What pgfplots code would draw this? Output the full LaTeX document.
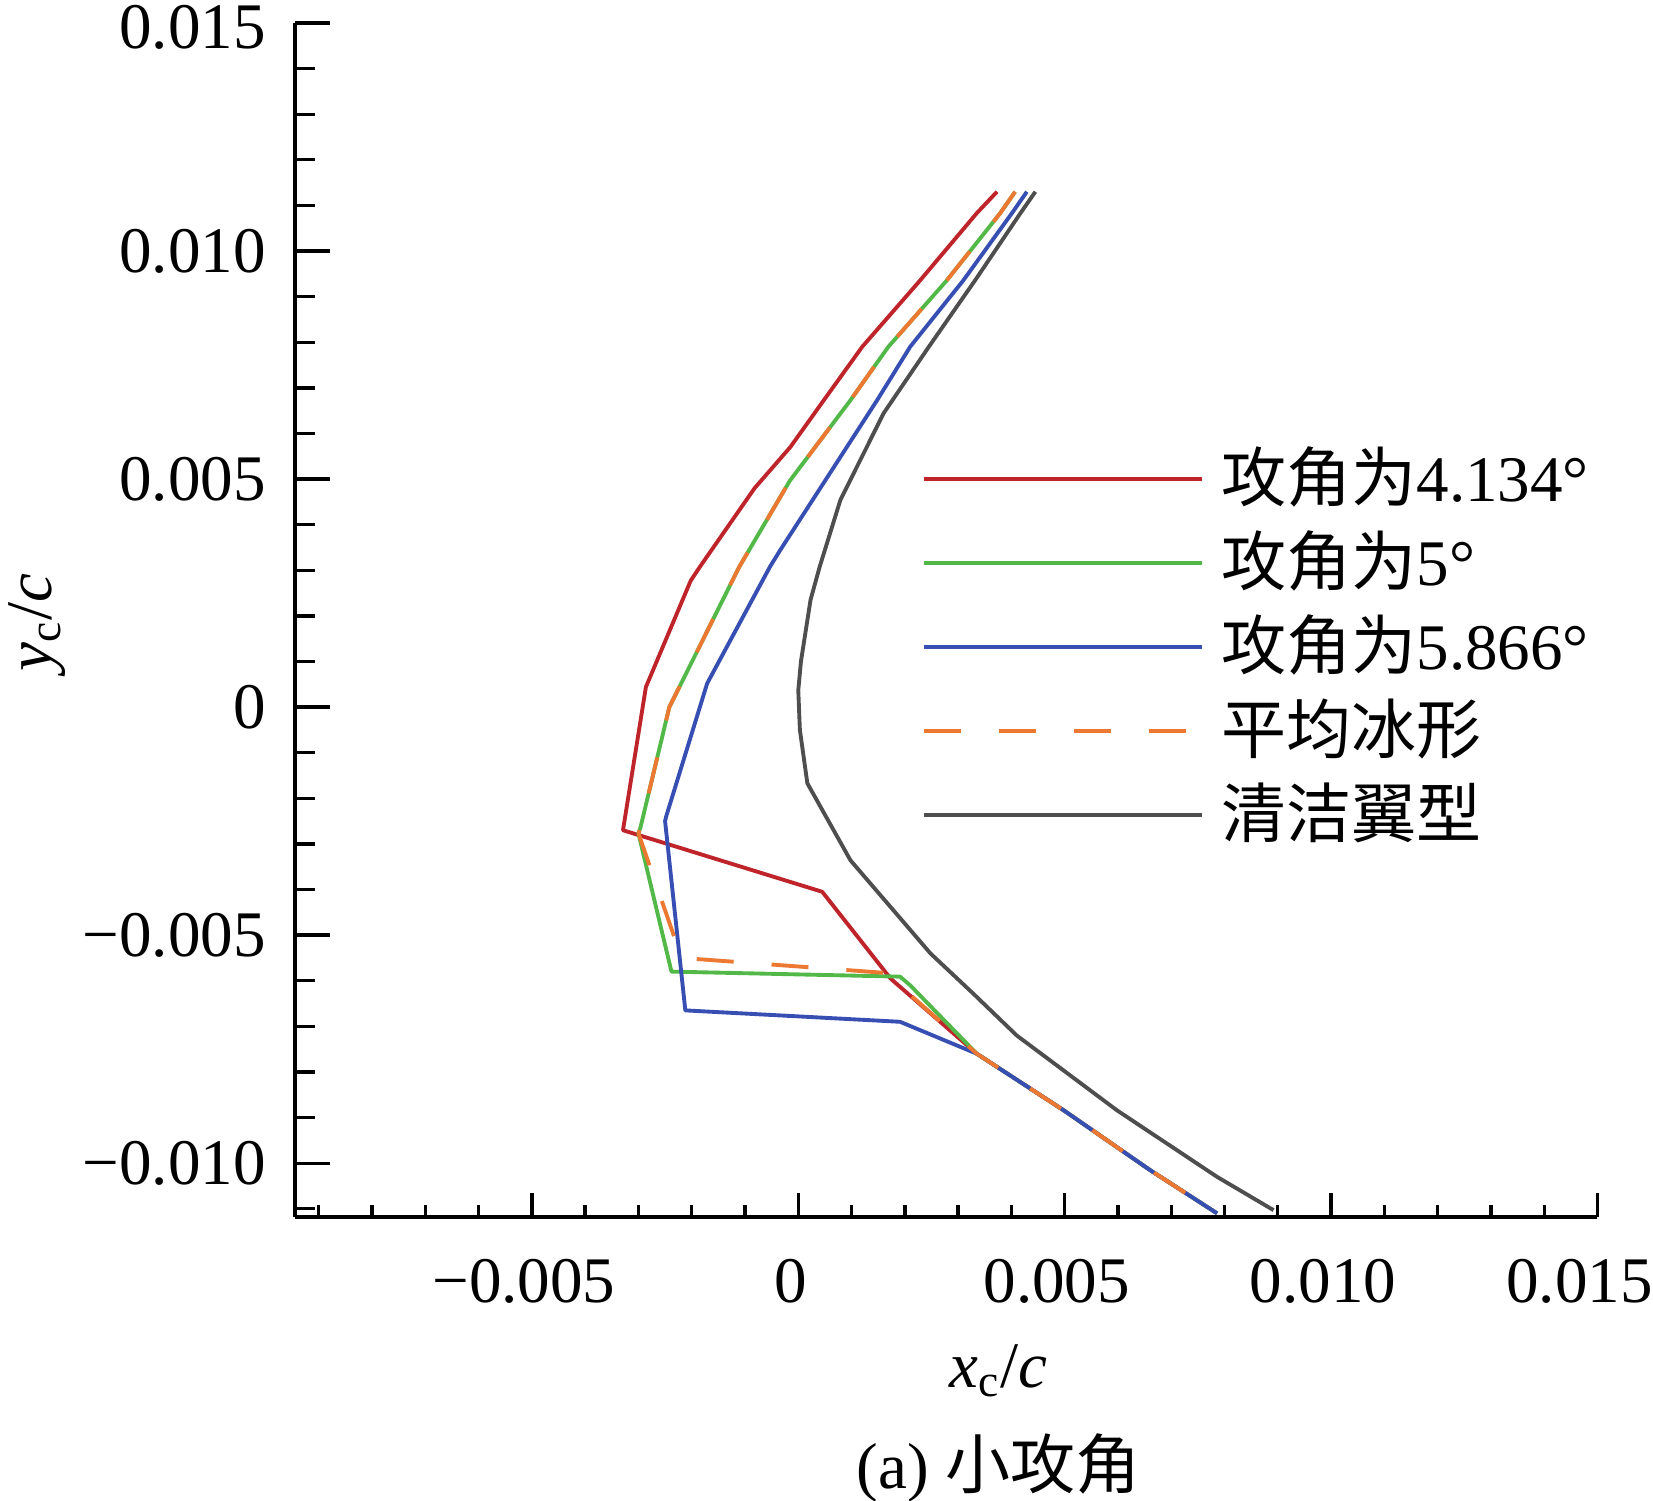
\documentclass[border=0pt]{standalone}
\usepackage{fontspec}
\setmainfont{Liberation Serif}
\newfontfamily\cjk{Noto Sans CJK SC}
\usepackage{pgfplots}
\pgfplotsset{compat=1.18}
\definecolor{cred}{RGB}{190,36,42}
\definecolor{cgreen}{RGB}{82,185,72}
\definecolor{cblue}{RGB}{55,78,178}
\definecolor{corange}{RGB}{236,120,50}
\definecolor{cgray}{RGB}{78,78,78}
\begin{document}
\fontsize{18.5pt}{22pt}\selectfont
\begin{tikzpicture}
\useasboundingbox (-2.95cm,-2.84cm) rectangle (13.58cm,12.17cm);
\begin{axis}[
  name=ax, scale only axis, width=13.025cm, height=11.94cm,
  at={(0,0)}, anchor=south west,
  xmin=-0.009446, xmax=0.015, ymin=-0.01118, ymax=0.015,
  axis x line*=bottom, axis y line*=left,
  axis line style={line width=1.1pt, black},
  clip=false,
  xtick={-0.005,0,0.005,0.01,0.015},
  xticklabels={−0.005,0,0.005,0.010,\hspace*{-0.2cm}0.015},
  ytick={-0.01,-0.005,0,0.005,0.01},
  yticklabels={−0.010,−0.005,0,0.005,0.010},
  extra y ticks={0.015},
  extra y tick labels={0.015},
  extra y tick style={yticklabel style={yshift=-0.04cm}},
  minor xtick={-0.009,-0.008,-0.007,-0.006,-0.004,-0.003,-0.002,-0.001,0.001,0.002,0.003,0.004,0.006,0.007,0.008,0.009,0.011,0.012,0.013,0.014},
  minor ytick={-0.011,-0.009,-0.008,-0.007,-0.006,-0.004,-0.003,-0.002,-0.001,0.001,0.002,0.003,0.004,0.006,0.007,0.008,0.009,0.011,0.012,0.013,0.014},
  scaled ticks=false,
  tick align=inside,
  major tick length=0.35cm, minor tick length=0.2cm,
  every tick/.style={black, line width=0.95pt},
  every major x tick/.append style={/pgfplots/major tick length=0.24cm},
  every minor x tick/.append style={/pgfplots/minor tick length=0.12cm},
  xticklabel style={yshift=-0.2cm, xshift=-0.08cm},
  yticklabel style={xshift=-0.07cm},
  xlabel={\textit{x}\textsubscript{c}/\textit{c}},
  xlabel style={at={(axis description cs:0.54,-0.1424)}, anchor=base},
  ylabel={\textit{y}\textsubscript{c}/\textit{c}},
  ylabel style={at={(axis description cs:-0.187,0.498)}, anchor=base},
  legend style={at={(axis description cs:0.4812,0.653)}, anchor=north west,
    draw=none, fill=none, inner sep=0pt, outer sep=0pt, row sep=0pt, column sep=0.18cm,
    nodes={inner sep=0pt, text height=0.64cm, text depth=0.2cm},
    cells={anchor=west}, font=\fontsize{18.5pt}{22pt}\selectfont},
  legend image code/.code={\draw[#1] (0cm,0cm) -- (2.78cm,0cm);},
  every axis plot/.append style={line width=1.1pt, line join=round},
]
\addplot[cred] coordinates {
(0.00373,0.01130) (0.00335,0.01083) (0.00229,0.00936) (0.00120,0.00790)
(0.00048,0.00673) (-0.00015,0.00570) (-0.00082,0.00480) (-0.00185,0.00307)
(-0.00202,0.00277) (-0.00286,0.00044) (-0.00329,-0.00270) (0.00045,-0.00405)
(0.00173,-0.00595) (0.00335,-0.00760) (0.00498,-0.00884) (0.00660,-0.01015)
(0.00786,-0.01110)};
\addlegendentry{{\cjk 攻角为}4.134°}
\addplot[cgreen] coordinates {
(0.00407,0.01130) (0.00379,0.01083) (0.00279,0.00936) (0.00169,0.00790)
(0.00098,0.00673) (-0.00016,0.00496) (-0.00111,0.00307) (-0.00242,0.00000)
(-0.00296,-0.00263) (-0.00300,-0.00277) (-0.00238,-0.00580) (0.00191,-0.00591)
(0.00210,-0.00610) (0.00335,-0.00760) (0.00498,-0.00884) (0.00660,-0.01015)
(0.00786,-0.01110)};
\addlegendentry{{\cjk 攻角为}5°}
\addplot[cblue] coordinates {
(0.00429,0.01130) (0.00401,0.01083) (0.00310,0.00936) (0.00210,0.00790)
(0.00148,0.00673) (-0.00034,0.00344) (-0.00053,0.00308) (-0.00171,0.00052)
(-0.00248,-0.00240) (-0.00250,-0.00250) (-0.00212,-0.00665) (0.00191,-0.00690)
(0.00335,-0.00760) (0.00498,-0.00884) (0.00660,-0.01015) (0.00786,-0.01110)};
\addlegendentry{{\cjk 攻角为}5.866°}
\addplot[corange, dash pattern=on 0.37cm off 0.38cm] coordinates {
(0.00407,0.01130) (0.00379,0.01083) (0.00279,0.00936) (0.00169,0.00790)
(0.00098,0.00673) (-0.00016,0.00496) (-0.00111,0.00307) (-0.00242,0.00000)
(-0.00296,-0.00263) (-0.00300,-0.00277) (-0.00225,-0.00530) (-0.00218,-0.00550)
(0.00166,-0.00583) (0.00185,-0.00605) (0.00335,-0.00760) (0.00498,-0.00884)
(0.00660,-0.01015) (0.00786,-0.01110)};
\addlegendentry{{\cjk 平均冰形}}
\addplot[cgray] coordinates {
(0.00445,0.01130) (0.00417,0.01083) (0.00332,0.00936) (0.00245,0.00790)
(0.00160,0.00644) (0.00079,0.00454) (0.00040,0.00307) (0.00023,0.00235)
(0.00005,0.00100) (0.00000,0.00037) (0.00003,-0.00050) (0.00017,-0.00167)
(0.00098,-0.00336) (0.00248,-0.00540) (0.00330,-0.00630) (0.00410,-0.00720)
(0.00598,-0.00884) (0.00786,-0.01030) (0.00892,-0.01103)};
\addlegendentry{{\cjk 清洁翼型}}
\node[anchor=base] at (axis description cs:0.54,-0.227) {(a) {\cjk 小攻角}};
\end{axis}
\end{tikzpicture}
\end{document}
